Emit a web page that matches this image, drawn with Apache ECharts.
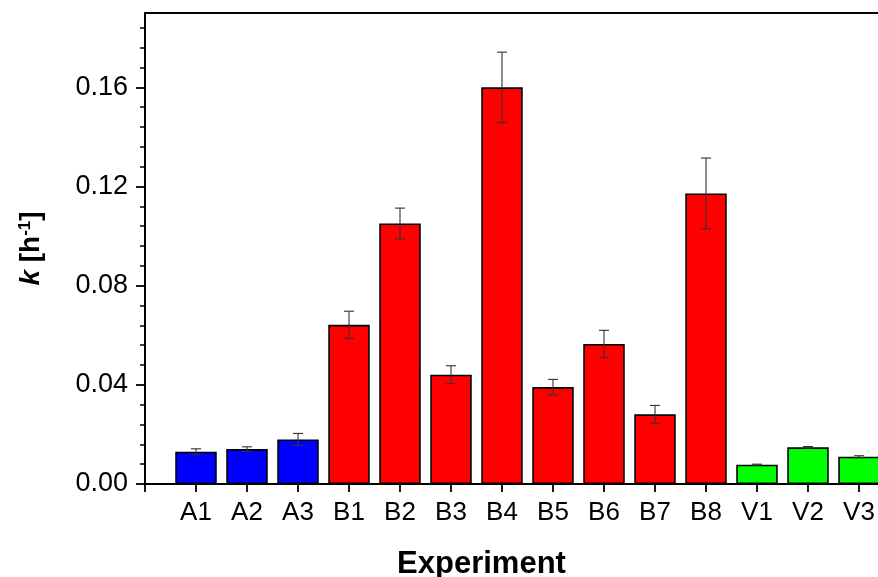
<!DOCTYPE html>
<html>
<head>
<meta charset="utf-8">
<script src="https://cdn.jsdelivr.net/npm/echarts@6/dist/echarts.min.js"></script>
<style>html,body{margin:0;padding:0;background:#fff}#c{width:878px;height:577px}</style>
</head>
<body>
<div id="c"></div>
<script>
const categories = ['A1','A2','A3','B1','B2','B3','B4','B5','B6','B7','B8','V1','V2','V3'];
const groups = ['A','A','A','B','B','B','B','B','B','B','B','V','V','V'];
const kValues = [0.0130, 0.0141, 0.0180, 0.0642, 0.1051, 0.0441, 0.1600, 0.0391, 0.0565, 0.0281, 0.1172, 0.0078, 0.0148, 0.0110];
const kErrors = [0.0012, 0.0009, 0.0024, 0.0055, 0.0062, 0.0036, 0.0142, 0.0031, 0.0055, 0.0036, 0.0143, 0.0002, 0.0003, 0.0004];
const yMajorTicks = [0, 0.04, 0.08, 0.12, 0.16];
const yMinorTicks = [0.008, 0.016, 0.024, 0.032, 0.048, 0.056, 0.064, 0.072, 0.088, 0.096, 0.104, 0.112, 0.128, 0.136, 0.144, 0.152, 0.168, 0.176, 0.184];
const groupColors = { A: '#0000FF', B: '#FF0000', V: '#00FF00' };

const FONT = "'Liberation Sans', Arial, Helvetica, sans-serif";
const chart = echarts.init(document.getElementById('c'), null, { renderer: 'canvas' });

const barData = categories.map((c, i) => ({
  value: [i + 1, kValues[i]],
  itemStyle: { color: groupColors[groups[i]] }
}));
const errData = categories.map((c, i) => [i + 1, kValues[i], kErrors[i]]);

chart.setOption({
  animation: false,
  backgroundColor: '#fff',
  grid: { left: 145, top: 13, right: -32, bottom: 93, containLabel: false, outerBoundsMode: 'none',
    show: true, borderColor: '#000', borderWidth: 1.8, backgroundColor: 'transparent' },
  xAxis: {
    type: 'value', min: 0, max: 15, interval: 1,
    name: 'Experiment', nameLocation: 'middle', nameGap: 65,
    nameTextStyle: { fontFamily: FONT, fontSize: 31, fontWeight: 'bold', color: '#000', padding: [0, 92, 0, 0] },
    axisLine: { show: true, lineStyle: { color: '#000', width: 1.8 } },
    axisTick: { show: true, inside: false, length: 8, lineStyle: { color: '#000', width: 1.8 } },
    axisLabel: { fontFamily: FONT, fontSize: 26, color: '#000', margin: 16,
      formatter: v => categories[Math.round(v) - 1] || '' },
    splitLine: { show: false }
  },
  yAxis: [
    {
      type: 'value', min: 0, max: 0.19, position: 'left',
      name: '{k|k} {t|[h}{s|-1}{t|]}', nameLocation: 'middle', nameGap: 100,
      nameTextStyle: { fontFamily: FONT, fontSize: 28, fontWeight: 'bold', color: '#000',
        rich: {
          k: { fontFamily: FONT, fontSize: 28, fontWeight: 'bold', fontStyle: 'italic', color: '#000' },
          t: { fontFamily: FONT, fontSize: 28, fontWeight: 'bold', color: '#000' },
          s: { fontFamily: FONT, fontSize: 17, fontWeight: 'bold', color: '#000', verticalAlign: 'top' }
        }
      },
      axisLine: { show: true, lineStyle: { color: '#000', width: 1.8 } },
      axisTick: { show: true, inside: false, length: 9, customValues: yMajorTicks, lineStyle: { color: '#000', width: 1.8 } },
      axisLabel: { fontFamily: FONT, fontSize: 27, color: '#000', margin: 17, customValues: yMajorTicks,
        formatter: v => v.toFixed(2) },
      splitLine: { show: false }
    },
    {
      type: 'value', min: 0, max: 0.19, position: 'left',
      axisLine: { show: false },
      axisTick: { show: true, inside: false, length: 5, customValues: yMinorTicks, lineStyle: { color: '#000', width: 1.5 } },
      axisLabel: { show: false },
      splitLine: { show: false }
    }
  ],
  series: [
    {
      type: 'bar', data: barData, barWidth: 41.5, yAxisIndex: 0,
      itemStyle: { borderColor: '#000', borderWidth: 1.6 }
    },
    {
      type: 'custom', data: errData, yAxisIndex: 0, z: 5,
      renderItem: function (params, api) {
        const x = api.value(0), y = api.value(1), e = api.value(2);
        const top = api.coord([x, y + e]);
        const bot = api.coord([x, y - e]);
        const hw = 5;
        const st = { stroke: '#333', lineWidth: 1.1 };
        return {
          type: 'group',
          children: [
            { type: 'line', shape: { x1: top[0], y1: top[1], x2: bot[0], y2: bot[1] }, style: st },
            { type: 'line', shape: { x1: top[0] - hw, y1: top[1], x2: top[0] + hw, y2: top[1] }, style: st },
            { type: 'line', shape: { x1: bot[0] - hw, y1: bot[1], x2: bot[0] + hw, y2: bot[1] }, style: st }
          ]
        };
      }
    }
  ]
});
</script>
</body>
</html>
